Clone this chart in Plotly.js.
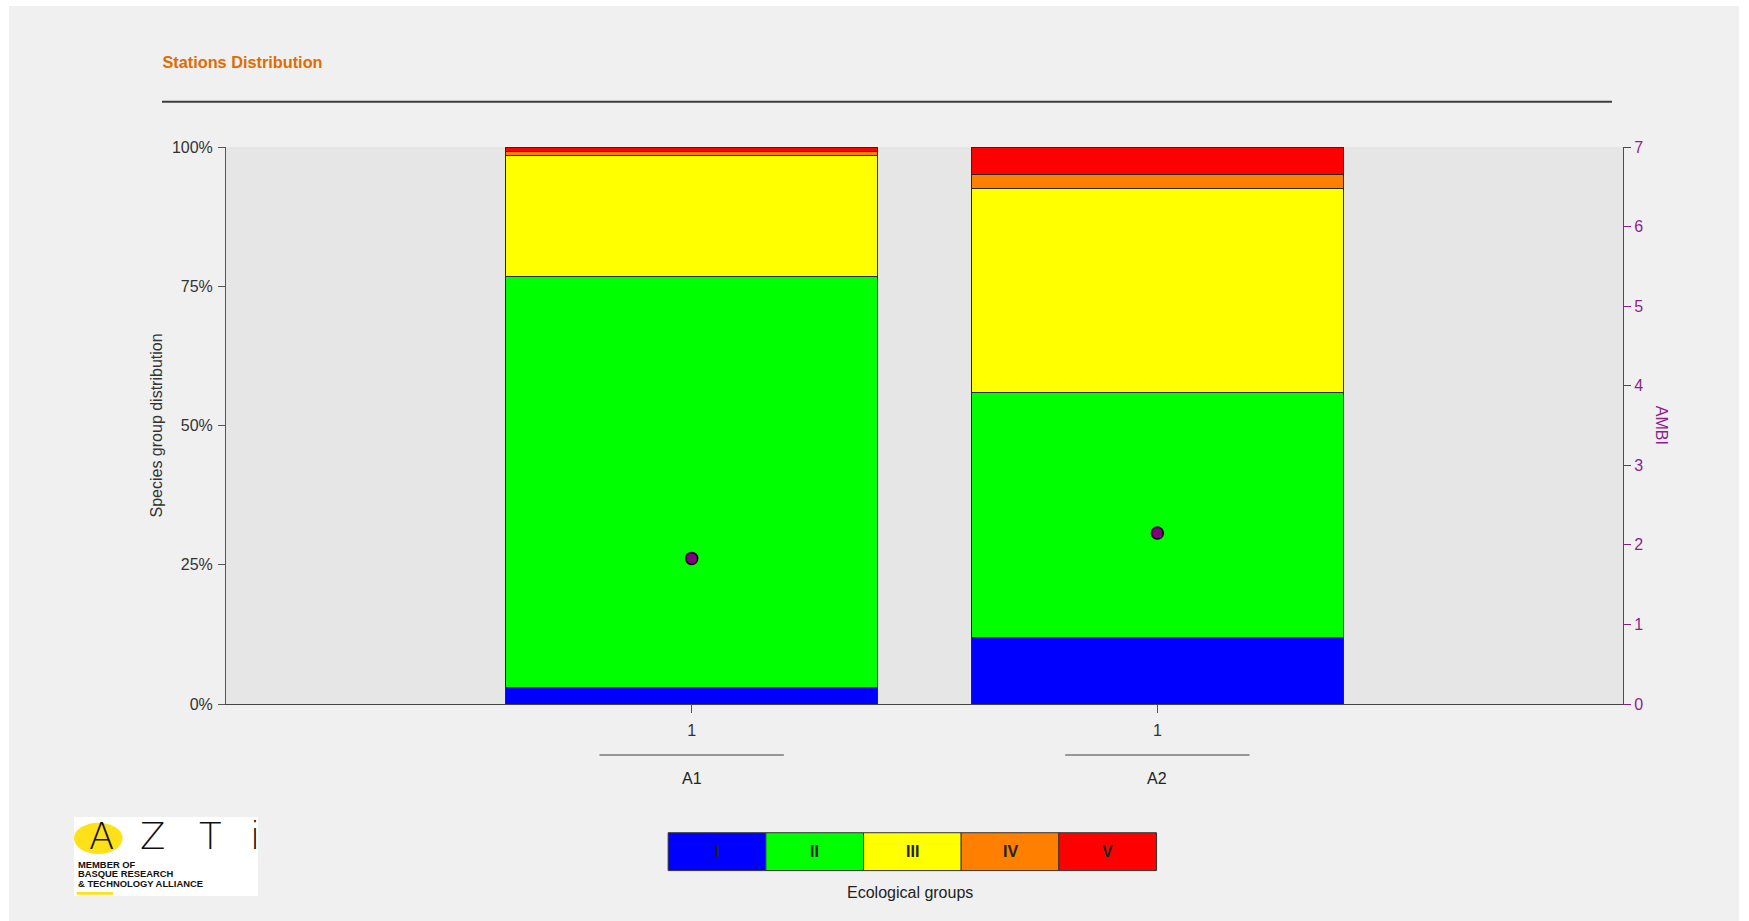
<!DOCTYPE html>
<html>
<head>
<meta charset="utf-8">
<script src="https://cdn.plot.ly/plotly-3.0.1.min.js"></script>
<style>
  html, body { margin: 0; padding: 0; background: #ffffff; }
  #chart { position: absolute; left: 9px; top: 6px; width: 1730px; height: 915px; }
</style>
</head>
<body>
<div id="chart"></div>
<script>
// ---- data ----
const stations = ["A1", "A2"];
const replicates = ["1", "1"];
const groups = ["I", "II", "III", "IV", "V"];
const groupColors = ["#0000FF", "#00FF00", "#FFFF00", "#FF8000", "#FF0000"];
const groupI   = [2.9, 12.0];
const groupII  = [73.9, 43.9];
const groupIII = [21.6, 36.6];
const groupIV  = [0.8, 2.5];
const groupV   = [0.8, 5.0];
const ambi = [1.83, 2.15];
const yTicks = [0, 25, 50, 75, 100];
const yTickText = ["0%", "25%", "50%", "75%", "100%"];
const ambiTicks = [0, 1, 2, 3, 4, 5, 6, 7];

const groupValues = [groupI, groupII, groupIII, groupIV, groupV];
const xPos = stations.map((s, i) => i);
const purple = "#8E1E8E";
const font = "Liberation Sans, Arial, sans-serif";
const fs = 16;

const traces = groups.map((g, k) => ({
  type: "bar",
  name: g,
  x: xPos,
  y: groupValues[k],
  width: 0.8,
  marker: { color: groupColors[k], line: { color: "#2a2a2a", width: 1 } },
  showlegend: false,
  hoverinfo: "skip"
}));
traces.push({
  type: "scatter",
  mode: "markers",
  x: xPos,
  y: ambi,
  yaxis: "y2",
  marker: { color: "#800080", size: 12, line: { color: "#000000", width: 1.5 } },
  showlegend: false,
  hoverinfo: "skip"
});

const shapes = [];
const annotations = [];

// header rule
shapes.push({ type: "line", xref: "paper", yref: "paper", x0: -0.0458, x1: 0.9921, y0: 1.0813, y1: 1.0813,
  line: { color: "#3c3c3c", width: 2 } });

// station group underlines and labels
stations.forEach((s, i) => {
  shapes.push({ type: "line", xref: "x", yref: "paper", x0: xPos[i] - 0.198, x1: xPos[i] + 0.198,
    y0: -0.0916, y1: -0.0916, line: { color: "#7a7a7a", width: 1.5 } });
  annotations.push({ xref: "x", yref: "paper", x: xPos[i], y: -0.134, text: s, showarrow: false,
    xanchor: "center", yanchor: "middle", font: { family: font, size: fs, color: "#222" } });
});

// ecological groups legend
const lgX0 = 0.3165, lgW = 0.06992, lgY0 = -0.2991, lgY1 = -0.2311;
groups.forEach((g, k) => {
  shapes.push({ type: "rect", xref: "paper", yref: "paper", x0: lgX0 + k * lgW, x1: lgX0 + (k + 1) * lgW,
    y0: lgY0, y1: lgY1, fillcolor: groupColors[k], line: { color: "#333", width: 1 } });
  annotations.push({ xref: "paper", yref: "paper", x: lgX0 + (k + 0.5) * lgW, y: (lgY0 + lgY1) / 2,
    text: "<b>" + g + "</b>", showarrow: false, xanchor: "center", yanchor: "middle",
    font: { family: font, size: fs, color: "#222" } });
});
annotations.push({ xref: "paper", yref: "paper", x: 0.4898, y: -0.3381, text: "Ecological groups",
  showarrow: false, xanchor: "center", yanchor: "middle", font: { family: font, size: fs, color: "#222" } });

// axis titles
annotations.push({ xref: "paper", yref: "paper", x: -0.0501, y: 0.5, text: "Species group distribution",
  textangle: -90, showarrow: false, xanchor: "center", yanchor: "middle",
  font: { family: font, size: fs, color: "#333" } });
annotations.push({ xref: "paper", yref: "paper", x: 1.0277, y: 0.5, text: "AMBI",
  textangle: 90, showarrow: false, xanchor: "center", yanchor: "middle",
  font: { family: font, size: fs, color: purple } });

// logo
shapes.push({ type: "rect", xref: "paper", yref: "paper", x0: -0.1088, x1: 0.0229, y0: -0.3447, y1: -0.2029,
  fillcolor: "#ffffff", line: { width: 0 } });
shapes.push({ type: "circle", xref: "paper", yref: "paper", x0: -0.1088, x1: -0.0740, y0: -0.2693, y1: -0.2131,
  fillcolor: "#FFE11A", line: { width: 0 } });
shapes.push({ type: "rect", xref: "paper", yref: "paper", x0: -0.1069, x1: -0.0807, y0: -0.3424, y1: -0.3375,
  fillcolor: "#FFE11A", line: { width: 0 } });
const logoLetters = ["A", "Z", "T", "i"];
const logoX = [101, 152.5, 210, 254.5];
logoLetters.forEach((L, i) => {
  annotations.push({ xref: "paper", yref: "paper", x: (logoX[i] - 226) / 1397, y: (704 - 836) / 557, text: L,
    showarrow: false, xanchor: "center", yanchor: "middle", borderpad: 0,
    font: { family: "DejaVu Sans", size: 37, color: "#111", weight: 200 } });
});
const logoLines = ["MEMBER OF", "BASQUE RESEARCH", "& TECHNOLOGY ALLIANCE"];
const logoLineY = [-0.2882, -0.3048, -0.3216];
logoLines.forEach((t, i) => {
  annotations.push({ xref: "paper", yref: "paper", x: -0.1069, y: logoLineY[i], text: t,
    showarrow: false, xanchor: "left", yanchor: "middle", borderpad: 0,
    font: { family: font, size: 9.4, color: "#111", weight: 700 } });
});

const layout = {
  width: 1730,
  height: 915,
  paper_bgcolor: "#f0f0f0",
  plot_bgcolor: "#e6e6e6",
  margin: { l: 217, r: 116, t: 141, b: 217 },
  barmode: "stack",
  bargap: 0.2,
  font: { family: font, size: fs, color: "#333" },
  title: {
    text: "Stations Distribution",
    xref: "container", yref: "container",
    x: 0.0887, y: 0.9388, xanchor: "left", yanchor: "middle",
    font: { family: font, size: 16.3, color: "#E06C00", weight: "bold" }
  },
  xaxis: {
    range: [-1, 2],
    tickvals: xPos,
    ticktext: replicates,
    ticks: "outside",
    ticklen: 8,
    tickcolor: "#555",
    ticklabelstandoff: 4,
    showgrid: false,
    zeroline: false,
    showline: true,
    linecolor: "#444",
    linewidth: 1,
    tickfont: { family: font, size: fs, color: "#333" },
    fixedrange: true
  },
  yaxis: {
    range: [0, 100],
    tickvals: yTicks,
    ticktext: yTickText,
    ticks: "outside",
    ticklen: 7,
    tickcolor: "#555",
    ticklabelstandoff: 2,
    showgrid: false,
    zeroline: false,
    showline: true,
    linecolor: "#555",
    linewidth: 1,
    tickfont: { family: font, size: fs, color: "#333" },
    fixedrange: true
  },
  yaxis2: {
    overlaying: "y",
    side: "right",
    range: [0, 7],
    tickvals: ambiTicks,
    ticks: "outside",
    ticklen: 7,
    tickcolor: purple,
    showgrid: false,
    zeroline: false,
    showline: true,
    linecolor: purple,
    linewidth: 1,
    tickfont: { family: font, size: fs, color: purple },
    fixedrange: true
  },
  shapes: shapes,
  annotations: annotations
};

Plotly.newPlot("chart", traces, layout, { displayModeBar: false, staticPlot: true });
</script>
</body>
</html>
